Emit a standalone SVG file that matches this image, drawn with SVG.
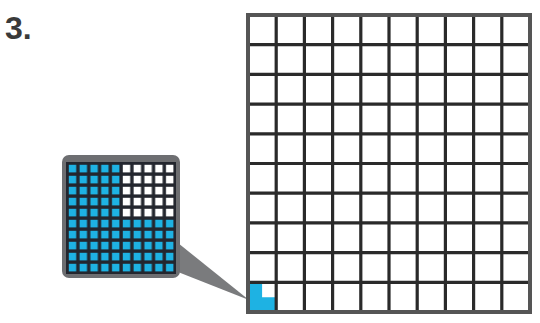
<svg xmlns="http://www.w3.org/2000/svg" width="540" height="323" viewBox="0 0 540 323">
  <style>
    .label { font-family: "Liberation Sans", Arial, sans-serif; font-weight: bold; font-size: 32px; fill: #3a3a3a; }
    .gridline { stroke: #2a2a2a; stroke-width: 3.2; fill: none; }
    .frame { stroke: #555555; stroke-width: 4; fill: none; }
    .blue { fill: #1eb2e3; }
  </style>
  <defs>
    <pattern id="pBlue" patternUnits="userSpaceOnUse" x="67" y="163" width="10.8" height="11">
      <rect x="1.8" y="1.8" width="7.4" height="7.6" fill="#1eb2e3"/>
    </pattern>
    <pattern id="pWhite" patternUnits="userSpaceOnUse" x="67" y="163" width="10.8" height="11">
      <rect x="1.8" y="1.8" width="7.4" height="7.6" fill="#ffffff"/>
    </pattern>
  </defs>
  <rect width="540" height="323" fill="#ffffff"/>

  <g id="label-3">
    <text class="label" x="5" y="39">3.</text>
  </g>

  <g id="connectors">
    <polygon points="178,243 178,272 249,300" fill="#7a7b7d"/>
  </g>

  <g id="inset">
    <rect x="62" y="155" width="118" height="123" rx="7" fill="#6d6e71"/>
    <rect x="66" y="162" width="110" height="112" fill="#23262e"/>
    <rect x="67" y="163" width="108" height="110" fill="url(#pBlue)"/>
    <rect x="121" y="163" width="54" height="55" fill="#23262e"/>
    <rect x="121" y="163" width="54" height="55" fill="url(#pWhite)"/>
  </g>

  <g id="grid">
    <polygon class="blue" points="248,282.3 262.1,282.3 262.1,297.2 276.2,297.2 276.2,312 248,312"/>
    <path class="gridline" d="M276.2 15V312 M304.4 15V312 M332.6 15V312 M360.8 15V312 M389 15V312 M417.2 15V312 M445.4 15V312 M473.6 15V312 M501.8 15V312
      M248 44.7H530 M248 74.4H530 M248 104.1H530 M248 133.8H530 M248 163.5H530 M248 193.2H530 M248 222.9H530 M248 252.6H530 M248 282.3H530"/>
    <rect class="frame" x="248" y="15" width="282" height="297"/>
  </g>
</svg>
